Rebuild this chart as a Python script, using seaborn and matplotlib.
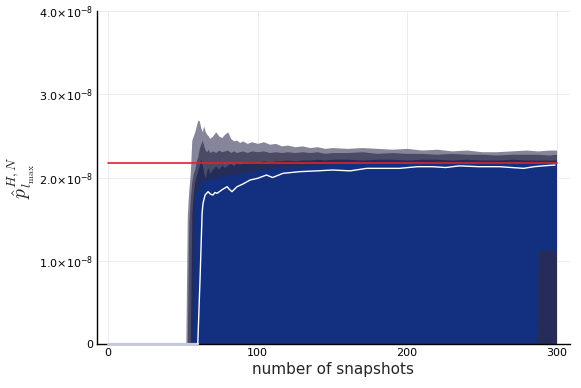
import numpy as np
import pandas as pd
import matplotlib
matplotlib.use("Agg")
import matplotlib.pyplot as plt
import seaborn as sns

# ---------------------------------------------------------------------------#
# Data (values in units of 1e-8)
# ---------------------------------------------------------------------------#
snapshots = [0, 52, 53, 54, 55, 56, 57, 58, 59, 60,
             61, 62, 63, 64, 65, 66, 67, 68, 70, 72,
             74, 76, 78, 80, 82, 84, 86, 88, 90, 93,
             96, 100, 104, 108, 112, 116, 120, 125, 130, 135,
             140, 145, 150, 160, 170, 180, 190, 200, 210, 220,
             230, 240, 250, 260, 270, 280, 287, 288, 295, 300]

band_outer = [0, 0, 1.55, 1.85, 2.05, 2.45, 2.50, 2.55, 2.62, 2.69,
              2.68, 2.60, 2.55, 2.62, 2.55, 2.52, 2.50, 2.47, 2.50, 2.55,
              2.50, 2.48, 2.52, 2.55, 2.47, 2.44, 2.45, 2.42, 2.44, 2.41,
              2.43, 2.41, 2.43, 2.40, 2.41, 2.38, 2.39, 2.37, 2.38, 2.36,
              2.37, 2.35, 2.36, 2.35, 2.36, 2.35, 2.34, 2.35, 2.33, 2.34,
              2.32, 2.33, 2.31, 2.31, 2.32, 2.33, 2.32, 2.32, 2.33, 2.33]

band_mid = [0, 0, 0, 1.45, 1.75, 1.95, 2.05, 2.10, 2.20, 2.25,
            2.35, 2.40, 2.45, 2.38, 2.33, 2.31, 2.34, 2.30, 2.32, 2.30,
            2.33, 2.31, 2.32, 2.33, 2.30, 2.32, 2.30, 2.31, 2.32, 2.30,
            2.32, 2.31, 2.32, 2.30, 2.31, 2.30, 2.31, 2.30, 2.31, 2.30,
            2.31, 2.29, 2.30, 2.30, 2.31, 2.29, 2.30, 2.29, 2.29, 2.28,
            2.29, 2.28, 2.28, 2.27, 2.28, 2.28, 2.28, 2.28, 2.27, 2.28]

band_inner = [0, 0, 0, 0, 0, 1.55, 1.80, 1.95, 2.02, 2.08,
              2.15, 2.22, 2.15, 2.05, 2.00, 2.08, 2.12, 2.05, 2.10, 2.14,
              2.10, 2.15, 2.12, 2.15, 2.17, 2.14, 2.18, 2.16, 2.18, 2.17,
              2.19, 2.18, 2.20, 2.19, 2.20, 2.20, 2.21, 2.20, 2.21, 2.21,
              2.22, 2.21, 2.22, 2.22, 2.21, 2.22, 2.22, 2.21, 2.22, 2.22,
              2.21, 2.22, 2.21, 2.21, 2.22, 2.21, 2.21, 2.21, 2.21, 2.21]

blue_upper = [0, 0, 0, 0, 0, 0, 0, 1.72, 1.80, 1.85,
              1.88, 1.93, 1.95, 1.97, 1.96, 1.98, 1.97, 1.99, 2.00, 1.99,
              2.01, 2.02, 2.01, 2.03, 2.04, 2.03, 2.05, 2.05, 2.06, 2.06,
              2.07, 2.09, 2.10, 2.11, 2.12, 2.13, 2.13, 2.14, 2.14, 2.15,
              2.15, 2.16, 2.16, 2.17, 2.17, 2.17, 2.18, 2.18, 2.18, 2.18,
              2.18, 2.18, 2.18, 2.18, 2.18, 2.18, 2.18, 2.18, 2.18, 2.18]

blue_lower = [0, 0, 0, 0, 0, 0, 0, 0, 0, 0,
              0, 0, 0, 0, 0, 0, 0, 0, 0, 0,
              0, 0, 0, 0, 0, 0, 0, 0, 0, 0,
              0, 0, 0, 0, 0, 0, 0, 0, 0, 0,
              0, 0, 0, 0, 0, 0, 0, 0, 0, 0,
              0, 0, 0, 0, 0, 0, 0, 1.13, 1.13, 1.13]

mean_x = [0, 60, 61.5, 62.9, 63.5, 64.9, 66.9, 68.5, 70.2, 71.5,
          72.9, 76, 79.6, 81, 82.9, 86.3, 90, 95, 100, 106,
          110, 117, 128, 140, 150, 162, 173, 184, 195, 207,
          217, 226, 235, 248, 262, 270, 278, 285, 291, 299]
mean_y = [0, 0, 0.77, 1.57, 1.69, 1.79, 1.83, 1.80, 1.79, 1.82,
          1.81, 1.85, 1.89, 1.86, 1.83, 1.89, 1.92, 1.97, 1.99, 2.03,
          2.00, 2.05, 2.07, 2.08, 2.09, 2.08, 2.11, 2.11, 2.11, 2.13,
          2.13, 2.12, 2.14, 2.13, 2.13, 2.12, 2.11, 2.13, 2.14, 2.15]

ref_x = [0, 300]
ref_y = [2.174, 2.174]

assert len(snapshots) == len(band_outer) == len(band_mid) == len(band_inner)
assert len(snapshots) == len(blue_upper) == len(blue_lower)
assert len(mean_x) == len(mean_y)

scale = 1e-8
df = pd.DataFrame({
    "snap": snapshots,
    "outer": np.array(band_outer) * scale,
    "mid": np.array(band_mid) * scale,
    "inner": np.array(band_inner) * scale,
    "b_up": np.array(blue_upper) * scale,
    "b_lo": np.array(blue_lower) * scale,
})
df_mean = pd.DataFrame({"snap": mean_x, "p": np.array(mean_y) * scale})
df_ref = pd.DataFrame({"snap": ref_x, "p": np.array(ref_y) * scale})

# ---------------------------------------------------------------------------#
# Figure
# ---------------------------------------------------------------------------#
sns.set_theme(style="white")
plt.rcParams["font.family"] = ["DejaVu Sans"]
plt.rcParams["mathtext.fontset"] = "dejavusans"

fig = plt.figure(figsize=(5.81, 3.88), dpi=100)
ax = fig.add_axes([0.167, 0.1134, 0.814, 0.8582])

ax.fill_between(df.snap, 0, df.outer, color="#86869a", lw=0)
ax.fill_between(df.snap, 0, df.mid, color="#4b4b66", lw=0)
ax.fill_between(df.snap, 0, df.inner, color="#262c5a", lw=0)
ax.fill_between(df.snap, df.b_lo, df.b_up, color="#12307f", lw=0)

sns.lineplot(data=df_ref, x="snap", y="p", color="#d9252f", lw=1.2, ax=ax)
zero = df_mean[df_mean.snap <= 60]
rest = df_mean[df_mean.snap >= 60]
sns.lineplot(data=zero, x="snap", y="p", color="#c3c8e4", lw=1.6, ax=ax,
             zorder=3, clip_on=False)
sns.lineplot(data=rest, x="snap", y="p", color="white", lw=1.0, ax=ax,
             zorder=3)

ax.set_xlim(-7.4, 309)
ax.set_ylim(0, 4e-8)
ax.set_xticks([0, 100, 200, 300])
ax.set_yticks([0, 1e-8, 2e-8, 3e-8, 4e-8])
ax.set_yticklabels(["0", r"$1.0{\times}10^{-8}$", r"$2.0{\times}10^{-8}$",
                    r"$3.0{\times}10^{-8}$", r"$4.0{\times}10^{-8}$"])
ax.tick_params(direction="in", length=4, width=0.8, labelsize=8,
               colors="black", pad=3)

ax.grid(True, color="#ececec", lw=0.7)
ax.set_axisbelow(True)
for side in ["top", "right"]:
    ax.spines[side].set_visible(False)
for side in ["left", "bottom"]:
    ax.spines[side].set_color("black")
    ax.spines[side].set_linewidth(1.0)

ax.set_xlabel("number of snapshots", fontsize=11, labelpad=3)
ax.set_ylabel(r"$\hat{p}_{l_{\max}}^{H,N}$", fontsize=14,
              math_fontfamily="cm", labelpad=1)

fig.savefig("out.png", dpi=100)
